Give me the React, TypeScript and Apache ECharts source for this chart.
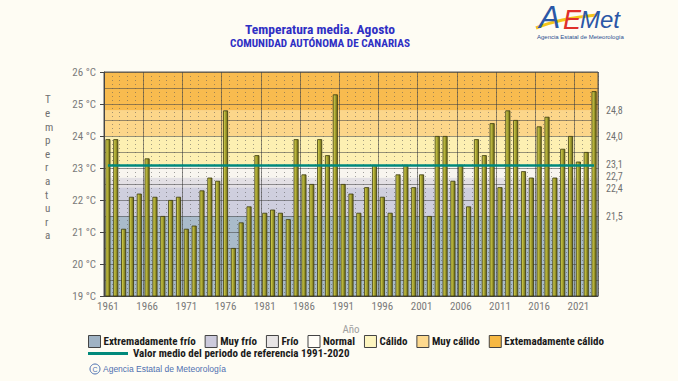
import React, { useEffect, useRef } from "react";
import * as echarts from "echarts";

const years = [
  "1961","1962","1963","1964","1965","1966","1967","1968","1969","1970",
  "1971","1972","1973","1974","1975","1976","1977","1978","1979","1980",
  "1981","1982","1983","1984","1985","1986","1987","1988","1989","1990",
  "1991","1992","1993","1994","1995","1996","1997","1998","1999","2000",
  "2001","2002","2003","2004","2005","2006","2007","2008","2009","2010",
  "2011","2012","2013","2014","2015","2016","2017","2018","2019","2020",
  "2021","2022","2023",
];

const temps = [
  23.9, 23.9, 21.1, 22.1, 22.2, 23.3, 22.1, 21.5, 22.0, 22.1,
  21.1, 21.2, 22.3, 22.7, 22.6, 24.8, 20.5, 21.3, 21.8, 23.4,
  21.6, 21.7, 21.6, 21.4, 23.9, 22.8, 22.5, 23.9, 23.4, 25.3,
  22.5, 22.2, 21.6, 22.4, 23.1, 22.1, 21.6, 22.8, 23.1, 22.4,
  22.8, 21.5, 24.0, 24.0, 22.6, 23.1, 21.8, 23.9, 23.4, 24.4,
  22.4, 24.8, 24.5, 22.9, 22.7, 24.3, 24.6, 22.7, 23.6, 24.0,
  23.2, 23.5, 25.4,
];

const thresholds = [21.5, 22.4, 22.7, 23.1, 24.0, 24.8];
const meanValue = 23.1;
const meanName = "Valor medio del periodo de referencia 1991-2020";
const yMin = 19;
const yMax = 26;

const bandNames = [
  "Extremadamente frío",
  "Muy frío",
  "Frío",
  "Normal",
  "Cálido",
  "Muy cálido",
  "Extemadamente cálido",
];
const bandColors = ["#a9bbca", "#cfcfde", "#e3e0e4", "#f8f5ef", "#fdf0b2", "#fcd68a", "#f8bb4f"];
const legendColors = ["#a0b3c4", "#cccadc", "#e8e5e5", "#fffdf7", "#fdf5bf", "#fdd98e", "#f6b843"];
const labelNudges = [0, 1, -1, 0, 0, 0];

const FONT = "'Liberation Sans Narrow', 'Roboto Condensed', 'Liberation Sans', sans-serif";

export default function App() {
  const ref = useRef<HTMLDivElement>(null);

  useEffect(() => {
    if (!ref.current) return;
    const chart = echarts.init(ref.current, null, { renderer: "svg" });
    const edges = [0, ...thresholds, yMax];

    const bandSeries = bandNames.map((name, i) => ({
      name,
      type: "bar",
      xAxisIndex: 2,
      stack: "bands",
      barWidth: "100%",
      silent: true,
      z: 1,
      itemStyle: { color: bandColors[i] },
      data: [Math.round((edges[i + 1] - edges[i]) * 10) / 10],
    }));

    const option: any = {
      animation: false,
      backgroundColor: "#fefcf3",
      textStyle: { fontFamily: FONT },
      title: {
        text: "Temperatura media. Agosto",
        subtext: "COMUNIDAD AUTÓNOMA DE CANARIAS",
        left: 315,
        textAlign: "center",
        top: 17,
        itemGap: 2,
        textStyle: { color: "#2f2fc4", fontSize: 13.5, fontWeight: "bold", fontFamily: FONT },
        subtextStyle: { color: "#2f2fc4", fontSize: 11.2, fontWeight: "bold", fontFamily: FONT },
      },
      grid: {
        left: 104,
        right: 80,
        top: 72,
        bottom: 85,
        show: true,
        borderColor: "#555",
        borderWidth: 1,
        backgroundColor: "transparent",
        z: 1.5,
      },
      legend: [
        {
          data: bandNames.map((n, i) => ({ name: n, icon: "rect", itemStyle: { color: legendColors[i] } })),
          left: 88,
          top: 335,
          padding: 0,
          itemWidth: 12,
          itemHeight: 12,
          itemGap: 9,
          selectedMode: false,
          itemStyle: { borderColor: "#444", borderWidth: 1 },
          textStyle: { color: "#1a1a1a", fontSize: 11, fontWeight: "bold", fontFamily: FONT, padding: [0, 0, 0, -2] },
        },
        {
          data: [{ name: meanName, icon: "rect", itemStyle: { color: "#00897b" } }],
          left: 88,
          top: 348,
          padding: 0,
          itemWidth: 40,
          itemHeight: 3,
          selectedMode: false,
          textStyle: { color: "#1a1a1a", fontSize: 11, fontWeight: "bold", fontFamily: FONT },
        },
      ],
      xAxis: [
        {
          type: "category",
          data: years,
          z: 1.5,
          name: "Año",
          nameLocation: "middle",
          nameGap: 28,
          nameTextStyle: { color: "#a0a0a0", fontSize: 11, fontFamily: FONT },
          axisLine: { show: true, lineStyle: { color: "#444" } },
          axisTick: { show: false },
          axisLabel: { interval: 4, color: "#7a7a7a", fontSize: 11, margin: 5, fontFamily: FONT },
          splitLine: { show: true, interval: 0, lineStyle: { color: "rgba(90,90,90,0.55)", type: [1, 3], width: 1 } },
        },
        {
          type: "category",
          data: years,
          position: "top",
          z: 1.5,
          axisLine: { show: false },
          axisTick: { show: false },
          axisLabel: { show: false },
          splitLine: { show: true, interval: 4, lineStyle: { color: "rgba(70,70,70,0.6)", width: 1 } },
        },
        {
          type: "category",
          data: ["bandas"],
          show: false,
        },
      ],
      yAxis: {
        type: "value",
        min: yMin,
        max: yMax,
        interval: 1,
        z: 1.5,
        axisLine: { show: true, lineStyle: { color: "#444" } },
        axisTick: { show: true, length: 4, lineStyle: { color: "#444" } },
        axisLabel: { formatter: (v: number) => v + " °C", color: "#7a7a7a", fontSize: 11, margin: 8, fontFamily: FONT },
        splitLine: { show: true, lineStyle: { color: "rgba(70,70,70,0.55)", width: 1 } },
        minorTick: { show: false, splitNumber: 2 },
        minorSplitLine: { show: true, lineStyle: { color: "rgba(70,70,70,0.55)", width: 1 } },
      },
      series: [
        ...bandSeries,
        {
          name: "Temperatura",
          type: "bar",
          data: temps,
          xAxisIndex: 0,
          barWidth: 5,
          z: 2,
          itemStyle: {
            color: new echarts.graphic.LinearGradient(0, 0, 1, 0, [
              { offset: 0, color: "#e2e05c" },
              { offset: 0.45, color: "#aaa632" },
              { offset: 1, color: "#6c6918" },
            ]),
            borderColor: "#3a380c",
            borderWidth: 0.8,
          },
          markLine: {
            silent: true,
            symbol: ["none", "none"],
            lineStyle: { color: "transparent", width: 0 },
            label: {
              show: true,
              position: "end",
              distance: 8,
              formatter: (p: any) => Number(p.value).toFixed(1).replace(".", ","),
              color: "#707070",
              fontSize: 10,
              lineHeight: 9,
              fontFamily: FONT,
            },
            data: thresholds.map((v, i) => ({ yAxis: v, label: { offset: [0, labelNudges[i]] } })),
          },
        },
        {
          name: meanName,
          type: "line",
          data: [],
          xAxisIndex: 0,
          symbol: "none",
          z: 3,
          itemStyle: { color: "#00897b" },
          lineStyle: { color: "#00897b", width: 3 },
          markLine: {
            silent: true,
            symbol: ["none", "none"],
            label: { show: false },
            lineStyle: { color: "#00897b", width: 2.5, type: "solid" },
            data: [[{ coord: [years[0], meanValue] }, { coord: [years[years.length - 1], meanValue] }]],
          },
        },
      ],
      graphic: [
        {
          type: "text",
          left: 45,
          top: 93,
          style: {
            text: "Temperatura".split("").join("\n"),
            fill: "#707070",
            font: "11px " + FONT,
            lineHeight: 13.6,
            align: "center",
            width: 10,
          },
        },
        {
          type: "bezierCurve",
          shape: { x1: 536, y1: 28, cpx1: 555, cpy1: 20, cpx2: 575, cpy2: 17, x2: 597, y2: 15 },
          style: { stroke: "#f3c51a", lineWidth: 3, fill: "none" },
          z: 10,
        },
        {
          type: "text",
          x: 539,
          y: 1,
          z: 11,
          style: { text: "A", fill: "#2b57a6", font: "italic 32px 'Liberation Sans'" },
        },
        {
          type: "text",
          x: 563,
          y: 6,
          z: 11,
          style: { text: "E", fill: "#e0302a", font: "italic 27px 'Liberation Sans'" },
        },
        {
          type: "text",
          x: 580,
          y: 7,
          z: 11,
          style: { text: "Met", fill: "#2b57a6", font: "italic 24px 'Liberation Sans'" },
        },
        {
          type: "text",
          x: 537,
          y: 34,
          style: { text: "Agencia Estatal de Meteorología", fill: "#2b4f90", font: "6px 'Liberation Sans'" },
        },
        {
          type: "circle",
          shape: { cx: 95, cy: 369, r: 5 },
          style: { stroke: "#4a6fb0", fill: "none", lineWidth: 1 },
        },
        {
          type: "text",
          x: 95,
          y: 369,
          style: { text: "C", fill: "#4a6fb0", font: "7px 'Liberation Sans'", align: "center", verticalAlign: "middle" },
        },
        {
          type: "text",
          x: 103,
          y: 369,
          style: {
            text: "Agencia Estatal de Meteorología",
            fill: "#5070b0",
            font: "8.5px 'Liberation Sans'",
            verticalAlign: "middle",
          },
        },
      ],
    };

    chart.setOption(option);
    return () => chart.dispose();
  }, []);

  return (
    <div
      ref={ref}
      style={{ position: "fixed", left: 0, top: 0, width: 678, height: 381 }}
    />
  );
}
